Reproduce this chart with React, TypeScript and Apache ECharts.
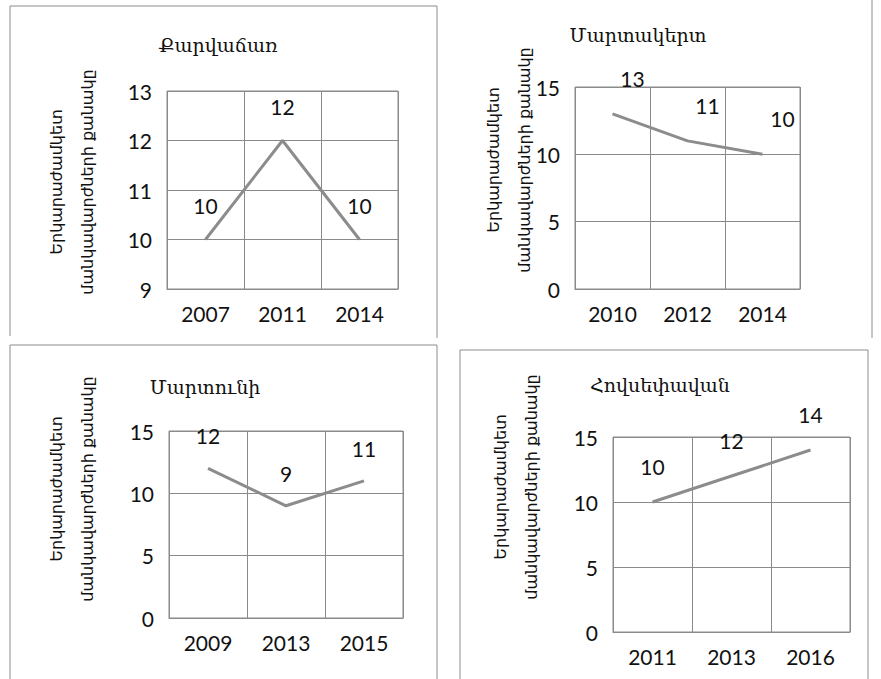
import React, { useEffect, useRef } from "react";
import * as echarts from "echarts";

const titles = ["Քարվաճառ", "Մարտակերտ", "Մարտունի", "Հովսեփավան"];
const axisLine1 = "Երկարաժամկետ";
const axisLine2 = "մանկավարժների քանակը";

const cats1 = ["2007", "2011", "2014"];
const vals1 = [10, 12, 10];
const cats2 = ["2010", "2012", "2014"];
const vals2 = [13, 11, 10];
const cats3 = ["2009", "2013", "2015"];
const vals3 = [12, 9, 11];
const cats4 = ["2011", "2013", "2016"];
const vals4 = [10, 12, 14];

const yRanges = [
  { min: 9, max: 13, interval: 1 },
  { min: 0, max: 15, interval: 5 },
  { min: 0, max: 15, interval: 5 },
  { min: 0, max: 15, interval: 5 },
];

const grids = [
  { left: 167, top: 91, width: 231, height: 198 },
  { left: 575, top: 87, width: 225, height: 202 },
  { left: 169, top: 431, width: 234, height: 187 },
  { left: 613, top: 437, width: 237, height: 195 },
];

const titlePos = [
  [218, 45],
  [638, 35],
  [205, 387],
  [660, 385],
];
const axisTitlePos = [
  [56, 87, 182],
  [493, 524, 160],
  [56, 87, 489],
  [500, 531, 487],
];
const labelOffsets = [
  [0, -2],
  [20, -3],
  [0, 0],
  [0, -3],
];

const GRID = "#8a8a8a";
const NUM_FONT = "Lato, 'Open Sans', sans-serif";

export default function App() {
  const ref = useRef<HTMLDivElement>(null);
  useEffect(() => {
    if (!ref.current) return;
    const chart = echarts.init(ref.current, undefined, { renderer: "svg" });
    const cats = [cats1, cats2, cats3, cats4];
    const vals = [vals1, vals2, vals3, vals4];

    const graphic: any[] = [];
    const border = (x1: number, y1: number, x2: number, y2: number) =>
      graphic.push({
        type: "line",
        shape: { x1, y1, x2, y2 },
        style: { stroke: "#8c8c8c", lineWidth: 1 },
        silent: true,
      });
    // panel 1
    border(10, 6, 437, 6);
    border(10, 6, 10, 336);
    border(437, 6, 437, 338);
    // panel 2
    border(872, 0, 872, 338);
    // panel 3
    border(10, 345, 437, 345);
    border(10, 345, 10, 679);
    border(437, 345, 437, 679);
    // panel 4
    border(460, 350, 868, 350);
    border(460, 350, 460, 679);
    border(868, 350, 868, 679);

    titles.forEach((t, i) => {
      graphic.push({
        type: "text",
        x: titlePos[i][0],
        y: titlePos[i][1],
        style: {
          text: t,
          font: "19px 'DejaVu Serif', serif",
          fill: "#111",
          textAlign: "center",
          textVerticalAlign: "middle",
        },
      });
      const [xa, xb, yc] = axisTitlePos[i];
      [axisLine1, axisLine2].forEach((line, k) => {
        graphic.push({
          type: "text",
          x: k === 0 ? xa : xb,
          y: yc,
          rotation: Math.PI / 2,
          style: {
            text: line,
            font: "16px 'DejaVu Sans', sans-serif",
            fill: "#111",
            textAlign: "center",
            textVerticalAlign: "middle",
          },
        });
      });
    });

    const option: any = {
      animation: false,
      backgroundColor: "#fff",
      grid: grids.map((g) => ({
        ...g,
        show: true,
        borderColor: GRID,
        borderWidth: 1,
        containLabel: false,
      })),
      xAxis: cats.map((c, i) => ({
        type: "category",
        gridIndex: i,
        data: c,
        boundaryGap: true,
        axisTick: { show: false },
        axisLine: { show: true, lineStyle: { color: GRID, width: 1 } },
        splitLine: { show: true, lineStyle: { color: GRID, width: 1 } },
        axisLabel: {
          fontFamily: NUM_FONT,
          fontSize: 21,
          color: "#111",
          margin: 24,
          verticalAlign: "middle",
          interval: 0,
        },
      })),
      yAxis: yRanges.map((r, i) => ({
        type: "value",
        gridIndex: i,
        min: r.min,
        max: r.max,
        interval: r.interval,
        axisLine: { show: false },
        axisTick: { show: false },
        splitLine: { show: true, lineStyle: { color: GRID, width: 1 } },
        axisLabel: {
          fontFamily: NUM_FONT,
          fontSize: 21,
          color: "#111",
          margin: 15,
        },
      })),
      series: vals.map((v, i) => ({
        type: "line",
        xAxisIndex: i,
        yAxisIndex: i,
        data: v,
        symbol: "circle",
        symbolSize: 2,
        showSymbol: true,
        itemStyle: { color: "rgba(0,0,0,0)", borderWidth: 0 },
        lineStyle: { color: "#8c8c8c", width: 3 },
        label: {
          show: true,
          position: "top",
          distance: 21,
          offset: labelOffsets[i],
          fontFamily: NUM_FONT,
          fontSize: 21,
          color: "#111",
        },
      })),
      graphic,
    };
    chart.setOption(option);
    return () => chart.dispose();
  }, []);
  return (
    <div
      ref={ref}
      style={{ position: "fixed", left: 0, top: 0, width: 881, height: 679 }}
    />
  );
}
